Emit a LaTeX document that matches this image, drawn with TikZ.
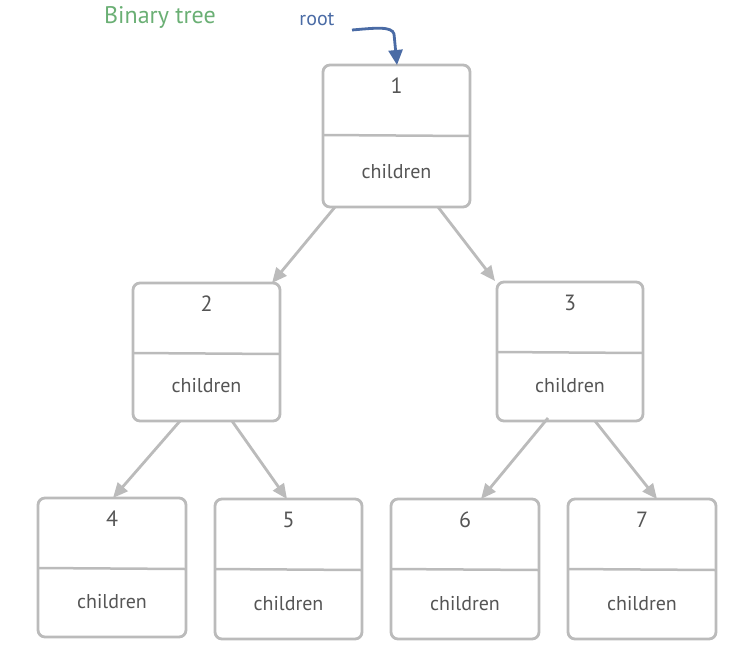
\documentclass[tikz,border=0pt]{standalone}
\usepackage{fontspec}
\setmainfont{PT Sans}
\usetikzlibrary{arrows.meta}
\definecolor{edge}{HTML}{BBBBBB}
\definecolor{txt}{HTML}{555555}
\definecolor{rootblue}{HTML}{4A6BA5}
\definecolor{titlegreen}{HTML}{6AAF74}
\tikzset{
  boxframe/.style={draw=edge, line width=2.8pt, rounded corners=7pt, inner sep=0pt},
  divider/.style={draw=edge, line width=2.5pt},
  lbl/.style={text=txt, font=\fontsize{20}{20}\selectfont, inner sep=0pt},
  keylbl/.style={text=txt, font=\fontsize{22}{22}\selectfont, inner sep=0pt},
  conn/.style={draw=edge, line width=2.8pt, -{Triangle[length=15pt,width=13pt]}},
}
\newcommand{\treebox}[6]{%
  % #1 name, #2 left, #3 right, #4 top, #5 bottom, #6 label
  \path[boxframe] (#2,#4) rectangle (#3,#5);
  \coordinate (#1-nw) at (#2,#4);
  \coordinate (#1-se) at (#3,#5);
  \path[divider] ({#2},{#4+70}) -- ({#3},{#4+71});
  \node[keylbl] (#1-key) at ({(#2+#3)/2},{#4+21}) {#6};
  \node[lbl] (#1-ch) at ({(#2+#3)/2},{#5-35}) {children};
}
\begin{document}
\begin{tikzpicture}[x=1pt,y=-1pt]
\useasboundingbox (0,0) rectangle (736,662);
\treebox{b1}{323}{470}{65}{207}{1}
\treebox{b2}{133}{280}{283}{421}{2}
\treebox{b3}{497}{643}{282}{421}{3}
\treebox{b4}{38}{186}{498}{637}{4}
\treebox{b5}{215}{362}{499}{639}{5}
\treebox{b6}{391}{539}{499}{639}{6}
\treebox{b7}{568}{716}{499}{639}{7}
% connector anchor points
\coordinate (b1-l) at (335,207); \coordinate (b2-t) at (272,283);
\coordinate (b1-r) at (438,207); \coordinate (b3-t) at (495,281);
\coordinate (b2-l) at (180,421); \coordinate (b4-t) at (113,498);
\coordinate (b2-r) at (232,421); \coordinate (b5-t) at (287,499);
\coordinate (b3-l) at (548,418); \coordinate (b6-t) at (481,499);
\coordinate (b3-r) at (595,421); \coordinate (b7-t) at (657,499);
\draw[conn] (b1-l) -- (b2-t);
\draw[conn] (b1-r) -- (b3-t);
\draw[conn] (b2-l) -- (b4-t);
\draw[conn] (b2-r) -- (b5-t);
\draw[conn] (b3-l) -- (b6-t);
\draw[conn] (b3-r) -- (b7-t);
% title and root
\node[text=titlegreen, font=\fontsize{24}{24}\selectfont, inner sep=0pt] (title) at (160,17) {Binary tree};
\node[text=rootblue, font=\fontsize{20}{20}\selectfont, inner sep=0pt] (rootlbl) at (317,19) {root};
\coordinate (rootstart) at (352,30);
\coordinate (b1-top) at (397,65);
\draw[draw=rootblue, line width=2.8pt, -{Triangle[length=15pt,width=14pt]}]
  (rootstart) .. controls (375,28) and (392,26) .. (394,34) -- (b1-top);
\end{tikzpicture}
\end{document}
